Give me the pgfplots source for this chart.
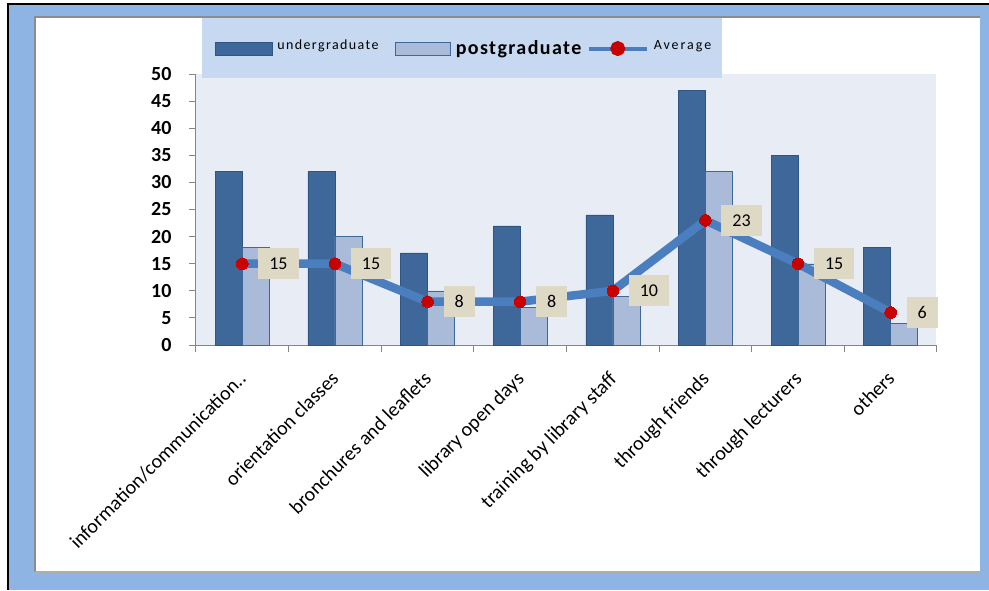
\documentclass[border=0pt]{standalone}
\usepackage{pgfplots}
\pgfplotsset{compat=1.18}
\usepackage{fontspec}
\setmainfont{Carlito}

\definecolor{frameblue}{HTML}{8DB4E2}
\definecolor{panelgray}{HTML}{8C8C8C}
\definecolor{legendbg}{HTML}{C6D9F1}
\definecolor{plotbg}{HTML}{E8ECF5}
\definecolor{ugfill}{HTML}{3E6899}
\definecolor{ugedge}{HTML}{2F5584}
\definecolor{pgfill}{HTML}{AABAD9}
\definecolor{pgedge}{HTML}{3E6899}
\definecolor{avgline}{HTML}{4A7EBF}
\definecolor{avgred}{HTML}{C80000}
\definecolor{labelbg}{HTML}{DDD9C4}
\definecolor{axisgray}{HTML}{868686}

\begin{document}
\begin{tikzpicture}[x=1pt,y=1pt]
% page, outer frame and inner panel
\path[use as bounding box] (0,0) rectangle (989,-590);
\fill[white] (0,0) rectangle (989,-590);
\fill[frameblue] (8,-4) rectangle (989,-590);
\draw[black, line width=2pt] (8,-590) -- (8,-4) -- (989,-4);
\fill[white] (35,-17) rectangle (980,-572);
\draw[panelgray, line width=1.5pt] (35,-572) -- (35,-17) -- (980,-17);
\draw[panelgray!70, line width=1.5pt] (35,-572) -- (980,-572);
% plot area and legend panel
\fill[plotbg] (196,-74) rectangle (936,-345);
\fill[legendbg] (202,-18) rectangle (722,-78);

\begin{axis}[
  at={(196pt,-345pt)}, anchor=south west,
  scale only axis, width=741pt, height=271pt,
  xmin=-0.5, xmax=7.5, ymin=0, ymax=50,
  axis x line*=bottom, axis y line*=left,
  axis line style={axisgray, line width=1pt},
  tick align=outside, major tick length=7pt,
  tick style={axisgray, line width=1pt},
  /pgf/number format/assume math mode=true,
  ytick={0,5,...,50},
  yticklabel style={font=\fontsize{20}{20}\selectfont\bfseries, text=black, xshift=-14pt},
  xtick={-0.5,0.5,1.5,2.5,3.5,4.5,5.5,6.5,7.5},
  xticklabels={,,,,,,,,},
  extra x ticks={0,1,2,3,4,5,6,7},
  extra x tick labels={information/communication..,orientation classes,bronchures and leaflets,library open days,training by library staff,through friends,through lecturers,others},
  extra x tick style={
    tick style={draw=none},
    xticklabel style={rotate=45, anchor=north east, xshift=-13pt, yshift=-6pt,
      font=\fontsize{20}{20}\selectfont, text=black}},
  legend columns=3,
  legend cell align=left,
  legend style={at={(0.0256,1.094)}, anchor=west, draw=none, fill=none,
    inner sep=0pt, outer sep=0pt, nodes={inner sep=0pt},
    /tikz/every odd column/.append style={column sep=5pt}},
]

\addplot[ybar, bar width=27pt, bar shift=-13.5pt, fill=ugfill, draw=ugedge,
  legend image code/.code={\draw[fill=ugfill, draw=ugedge] (0pt,-6.5pt) rectangle (57pt,6.5pt);}]
  coordinates {(0,32) (1,32) (2,17) (3,22) (4,24) (5,47) (6,35) (7,18)};
\addlegendentry{\makebox[118pt][l]{\raisebox{6pt}{\fontsize{14}{14}\selectfont\addfontfeatures{LetterSpace=10}undergraduate}}}

\addplot[ybar, bar width=27pt, bar shift=13.5pt, fill=pgfill, draw=pgedge,
  legend image code/.code={\draw[fill=pgfill, draw=pgedge] (0pt,-6.5pt) rectangle (55pt,6.5pt);}]
  coordinates {(0,18) (1,20) (2,10) (3,7) (4,9) (5,32) (6,15) (7,4)};
\addlegendentry{\makebox[131pt][l]{\fontsize{20}{20}\selectfont\bfseries\addfontfeatures{LetterSpace=7}postgraduate}}

\addplot[color=avgline, line width=8.5pt, mark=*, mark size=5.8pt,
  mark options={fill=avgred, draw=avgred, line width=0pt},
  nodes near coords,
  every node near coord/.append style={anchor=west, xshift=16pt, fill=labelbg,
    draw=none, text=black, minimum height=31pt, inner xsep=11pt,
    font=\fontsize{18}{18}\selectfont},
  legend image code/.code={\draw[avgline, line width=4pt] (0pt,0pt) -- (58pt,0pt);
    \fill[avgred] (29pt,0pt) circle (3pt);}]
  coordinates {(0,15) (1,15) (2,8) (3,8) (4,10) (5,23) (6,15) (7,6)};
\addlegendentry{\raisebox{6pt}{\fontsize{14}{14}\selectfont\addfontfeatures{LetterSpace=14}Average}}
\end{axis}
\end{tikzpicture}
\end{document}
